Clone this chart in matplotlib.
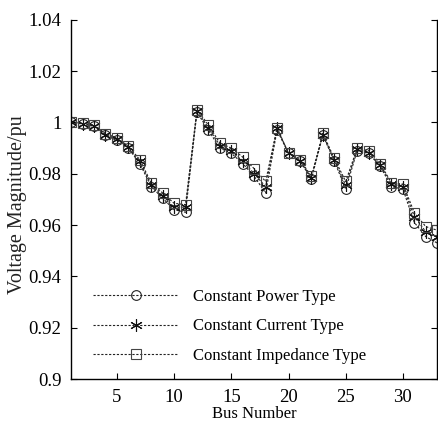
import matplotlib
matplotlib.use("Agg")
import matplotlib.pyplot as plt

plt.rcParams['font.family'] = ['Liberation Serif', 'DejaVu Serif']

bus = list(range(1, 34))
v_power = [1.000, 0.9995, 0.9985, 0.995, 0.993, 0.990, 0.984, 0.975, 0.9705, 0.966, 0.965,
           1.004, 0.997, 0.990, 0.988, 0.984, 0.979, 0.9725, 0.997, 0.988, 0.985, 0.978,
           0.995, 0.985, 0.974, 0.989, 0.988, 0.983, 0.975, 0.974, 0.961, 0.9555, 0.953]
v_current = [1.000, 0.9995, 0.9987, 0.9953, 0.9935, 0.9903, 0.9848, 0.9757, 0.9715, 0.967, 0.967,
             1.0045, 0.998, 0.991, 0.989, 0.985, 0.980, 0.975, 0.9977, 0.988, 0.985, 0.9785,
             0.9952, 0.9855, 0.9755, 0.9895, 0.988, 0.9835, 0.976, 0.975, 0.9633, 0.9574, 0.9555]
v_impedance = [1.000, 0.9997, 0.999, 0.9957, 0.994, 0.9908, 0.9855, 0.9765, 0.9725, 0.9685, 0.968,
               1.005, 0.999, 0.992, 0.990, 0.9865, 0.982, 0.977, 0.998, 0.988, 0.9855, 0.979,
               0.9958, 0.986, 0.977, 0.990, 0.989, 0.984, 0.9765, 0.976, 0.9648, 0.9594, 0.958]

labels = ['Constant Power Type', 'Constant Current Type', 'Constant Impedance Type']

fig = plt.figure(figsize=(4.39, 4.23), dpi=100)
ax = fig.add_axes([0.162, 0.104, 0.834, 0.849])

ax.plot(bus, v_power, linestyle=(0, (2, 1.5)), color='#222222', lw=0.8,
        marker='o', markersize=7, markerfacecolor='none', markeredgecolor='#222222',
        markeredgewidth=0.8, label=labels[0])
ax.plot(bus, v_current, linestyle=(0, (2, 1.5)), color='#222222', lw=0.8,
        marker=(6, 2, 0), markersize=9, markeredgecolor='#111111',
        markeredgewidth=0.8, label=labels[1])
ax.plot(bus, v_impedance, linestyle=(0, (2, 1.5)), color='#222222', lw=0.8,
        marker='s', markersize=7, markerfacecolor='none', markeredgecolor='#444444',
        markeredgewidth=0.8, label=labels[2])

ax.set_xlim(1, 33)
ax.set_ylim(0.9, 1.04)
ax.set_xticks([5, 10, 15, 20, 25, 30])
ax.set_yticks([0.9, 0.92, 0.94, 0.96, 0.98, 1.0, 1.02, 1.04])
ax.set_yticklabels(['0.9', '0.92', '0.94', '0.96', '0.98', '1', '1.02', '1.04'])
ax.tick_params(direction='in', labelsize=13.5, length=4, width=0.8, right=True, top=False)
ax.tick_params(axis='x', pad=7)
ax.tick_params(axis='y', pad=7)
ax.set_xlabel('Bus Number', fontsize=12, labelpad=0)
ax.set_ylabel('Voltage Magnitude/pu', fontsize=14.5, color='#222222')
ax.yaxis.set_label_coords(-0.12, 0.485)
ax.spines['top'].set_visible(False)
for s in ['left', 'bottom', 'right']:
    ax.spines[s].set_linewidth(1.0)

leg = ax.legend(loc='lower left', bbox_to_anchor=(0.02, 0.0), frameon=False,
                fontsize=12, handlelength=5.1, handletextpad=0.9, labelspacing=0.82)

fig.savefig('out.png', dpi=100)
